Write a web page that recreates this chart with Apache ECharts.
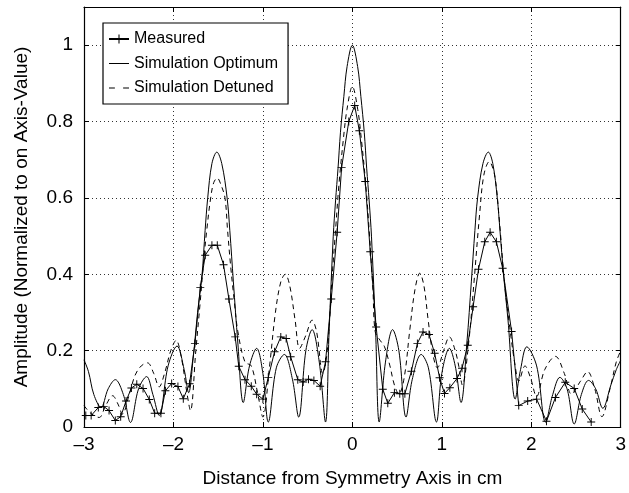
<!DOCTYPE html>
<html>
<head>
<meta charset="utf-8">
<script src="https://cdn.jsdelivr.net/npm/echarts@6/dist/echarts.min.js"></script>
<style>
html,body{margin:0;padding:0;background:#fff;}
#chart{width:629px;height:493px;}
</style>
</head>
<body>
<div id="chart"></div>
<script>
// ---- Data ----
const xTicks = [-3, -2, -1, 0, 1, 2, 3];
const yTicks = [0, 0.2, 0.4, 0.6, 0.8, 1];

const measuredX = [-2.98,-2.92,-2.84,-2.78,-2.72,-2.65,-2.59,-2.53,-2.47,-2.41,-2.34,-2.27,-2.21,-2.14,-2.09,-2.02,-1.95,-1.89,-1.82,-1.76,-1.70,-1.645,-1.57,-1.51,-1.44,-1.38,-1.31,-1.27,-1.20,-1.13,-1.07,-1.00,-0.94,-0.87,-0.80,-0.74,-0.69,-0.61,-0.55,-0.49,-0.43,-0.36,-0.30,-0.236,-0.17,-0.12,-0.04,0.026,0.078,0.144,0.20,0.266,0.34,0.396,0.47,0.53,0.587,0.66,0.727,0.79,0.857,0.92,0.975,1.03,1.09,1.17,1.226,1.29,1.35,1.41,1.48,1.54,1.61,1.68,1.78,1.86,1.96,2.06,2.17,2.27,2.38,2.48,2.57,2.67];
const measuredY = [0.030,0.030,0.051,0.054,0.043,0.017,0.027,0.068,0.102,0.112,0.101,0.072,0.036,0.036,0.095,0.114,0.106,0.074,0.113,0.219,0.365,0.450,0.476,0.476,0.425,0.335,0.236,0.159,0.124,0.107,0.086,0.073,0.130,0.197,0.236,0.232,0.184,0.124,0.118,0.125,0.122,0.107,0.171,0.335,0.510,0.680,0.800,0.842,0.776,0.643,0.459,0.262,0.099,0.062,0.090,0.087,0.087,0.146,0.219,0.249,0.242,0.193,0.129,0.088,0.103,0.127,0.154,0.214,0.315,0.413,0.485,0.510,0.485,0.416,0.250,0.056,0.068,0.073,0.015,0.077,0.117,0.101,0.047,0.013];

const optimumX = [-3.00,-2.95,-2.89,-2.81,-2.73,-2.65,-2.56,-2.48,-2.39,-2.30,-2.23,-2.16,-2.06,-1.96,-1.88,-1.83,-1.78,-1.73,-1.68,-1.646,-1.617,-1.57,-1.515,-1.46,-1.40,-1.37,-1.33,-1.28,-1.22,-1.15,-1.07,-1.00,-0.94,-0.85,-0.76,-0.67,-0.60,-0.52,-0.45,-0.37,-0.30,-0.26,-0.214,-0.188,-0.16,-0.133,-0.095,-0.059,0,0.059,0.095,0.133,0.16,0.188,0.214,0.26,0.30,0.37,0.45,0.52,0.60,0.67,0.77,0.85,0.94,1.00,1.085,1.15,1.215,1.28,1.33,1.37,1.40,1.46,1.52,1.57,1.62,1.65,1.69,1.74,1.82,1.88,1.95,2.06,2.16,2.24,2.32,2.40,2.48,2.56,2.64,2.72,2.80,2.89,2.95,3.00];
const optimumY = [0.176,0.145,0.085,0.051,0.100,0.124,0.085,0.012,0.100,0.132,0.085,0.030,0.160,0.212,0.150,0.090,0.180,0.300,0.400,0.515,0.600,0.690,0.720,0.690,0.600,0.515,0.380,0.220,0.064,0.160,0.206,0.140,0.013,0.155,0.190,0.125,0.026,0.200,0.255,0.170,0.013,0.250,0.498,0.592,0.678,0.772,0.866,0.944,1.000,0.944,0.866,0.772,0.678,0.592,0.498,0.250,0.013,0.170,0.255,0.200,0.026,0.125,0.190,0.155,0.013,0.140,0.206,0.160,0.064,0.220,0.380,0.515,0.600,0.690,0.720,0.690,0.600,0.515,0.400,0.280,0.073,0.150,0.210,0.160,0.013,0.085,0.130,0.100,0.008,0.085,0.122,0.100,0.049,0.110,0.150,0.175];

const detunedX = [-3.00,-2.92,-2.83,-2.76,-2.68,-2.62,-2.57,-2.50,-2.43,-2.36,-2.29,-2.22,-2.16,-2.10,-2.03,-1.97,-1.91,-1.85,-1.81,-1.75,-1.70,-1.66,-1.628,-1.584,-1.55,-1.51,-1.47,-1.424,-1.395,-1.36,-1.32,-1.28,-1.20,-1.13,-1.06,-1.00,-0.93,-0.86,-0.80,-0.75,-0.70,-0.64,-0.59,-0.52,-0.45,-0.40,-0.33,-0.28,-0.23,-0.188,-0.15,-0.10,-0.06,0,0.06,0.10,0.15,0.188,0.23,0.255,0.31,0.36,0.42,0.47,0.52,0.58,0.64,0.70,0.754,0.80,0.846,0.90,0.95,1.02,1.085,1.15,1.19,1.23,1.30,1.36,1.42,1.47,1.53,1.59,1.64,1.70,1.76,1.82,1.86,1.93,1.99,2.06,2.15,2.27,2.37,2.45,2.55,2.63,2.71,2.79,2.88,2.95,3.00];
const detunedY = [0.056,0.035,0.025,0.055,0.082,0.060,0.034,0.080,0.135,0.160,0.168,0.140,0.105,0.140,0.200,0.227,0.180,0.090,0.043,0.200,0.330,0.440,0.515,0.600,0.640,0.652,0.635,0.600,0.515,0.420,0.330,0.250,0.170,0.160,0.090,0.026,0.150,0.300,0.380,0.400,0.370,0.280,0.206,0.240,0.280,0.250,0.140,0.200,0.380,0.515,0.635,0.755,0.832,0.892,0.832,0.755,0.635,0.515,0.360,0.250,0.227,0.210,0.160,0.110,0.086,0.130,0.250,0.360,0.403,0.370,0.283,0.190,0.155,0.200,0.236,0.200,0.159,0.110,0.220,0.380,0.550,0.660,0.695,0.660,0.550,0.380,0.260,0.160,0.120,0.160,0.130,0.080,0.150,0.185,0.140,0.086,0.120,0.145,0.100,0.027,0.100,0.170,0.200];

const seriesNames = ['Measured', 'Simulation Optimum', 'Simulation Detuned'];
const xName = 'Distance from Symmetry Axis in cm';
const yName = 'Amplitude (Normalized to on Axis-Value)';

function zip(xs, ys) { return xs.map((x, i) => [x, ys[i]]); }

const FONT = "'Liberation Sans', Arial, Helvetica, sans-serif";
const plusPath = 'path://M4.4,0 L5.6,0 L5.6,4.4 L10,4.4 L10,5.6 L5.6,5.6 L5.6,10 L4.4,10 L4.4,5.6 L0,5.6 L0,4.4 L4.4,4.4 Z';
const solidIcon = 'path://M0,0 L20,0 L20,1 L0,1 Z';
const dashIcon = 'path://M0,0 L5,0 L5,1 L0,1 Z M12,0 L17,0 L17,1 L12,1 Z';

const chart = echarts.init(document.getElementById('chart'), null, {renderer: 'canvas'});

const tickInside = {show: true, inside: true, length: 5, lineStyle: {color: '#000', width: 1}};
const boxLine = {show: true, onZero: false, lineStyle: {color: '#000', width: 1.2}};
const gridDots = {show: true, lineStyle: {color: '#333', width: 1, type: [1, 3]}};

chart.setOption({
  animation: false,
  backgroundColor: '#fff',
  textStyle: {fontFamily: FONT},
  grid: {left: 84, right: 3, top: 7, bottom: 60, containLabel: false},
  legend: {
    orient: 'vertical',
    left: 103, top: 23,
    padding: [8, 10, 8, 5],
    itemGap: 8.5,
    itemWidth: 20, itemHeight: 11,
    backgroundColor: '#fff',
    borderColor: '#000', borderWidth: 1.2, borderRadius: 0,
    textStyle: {fontSize: 16, color: '#000', fontFamily: FONT, lineHeight: 16},
    data: [
      {name: seriesNames[0]},
      {name: seriesNames[1], icon: solidIcon},
      {name: seriesNames[2], icon: dashIcon}
    ]
  },
  xAxis: [{
    type: 'value', min: xTicks[0], max: xTicks[xTicks.length - 1], interval: 1,
    position: 'bottom',
    name: xName, nameLocation: 'middle', nameGap: 42,
    nameTextStyle: {fontSize: 19, color: '#000', fontFamily: FONT},
    axisLine: boxLine, axisTick: tickInside,
    axisLabel: {fontSize: 19, color: '#000', margin: 8, fontFamily: FONT,
      showMinLabel: true, showMaxLabel: true,
      formatter: v => (v < 0 ? '\u2013' + Math.abs(v) : String(v))},
    splitLine: gridDots
  }, {
    type: 'value', min: xTicks[0], max: xTicks[xTicks.length - 1], interval: 1,
    position: 'top',
    axisLine: boxLine, axisTick: tickInside,
    axisLabel: {show: false}, splitLine: {show: false}
  }],
  yAxis: [{
    type: 'value', min: 0, max: 1.1, interval: 0.2,
    position: 'left',
    name: yName, nameLocation: 'middle', nameGap: 53,
    nameTextStyle: {fontSize: 19, color: '#000', fontFamily: FONT},
    axisLine: boxLine, axisTick: tickInside,
    axisLabel: {fontSize: 19, color: '#000', margin: 11, fontFamily: FONT,
      showMaxLabel: false,
      formatter: v => (yTicks.some(t => Math.abs(t - v) < 1e-9) ? String(+v.toFixed(1)) : '')},
    splitLine: gridDots
  }, {
    type: 'value', min: 0, max: 1.1, interval: 0.2,
    position: 'right',
    axisLine: boxLine, axisTick: tickInside,
    axisLabel: {show: false}, splitLine: {show: false}
  }],
  series: [{
    name: seriesNames[0], type: 'line',
    data: zip(measuredX, measuredY),
    symbol: plusPath, symbolSize: 8, showSymbol: true,
    itemStyle: {color: '#000'},
    lineStyle: {color: '#000', width: 1},
    z: 3
  }, {
    name: seriesNames[1], type: 'line',
    data: zip(optimumX, optimumY),
    symbol: 'none', smooth: 0.35,
    itemStyle: {color: '#000'},
    lineStyle: {color: '#000', width: 1},
    z: 2
  }, {
    name: seriesNames[2], type: 'line',
    data: zip(detunedX, detunedY),
    symbol: 'none', smooth: 0.35,
    itemStyle: {color: '#000'},
    lineStyle: {color: '#000', width: 1, type: [5, 4]},
    z: 2
  }]
});
</script>
</body>
</html>
